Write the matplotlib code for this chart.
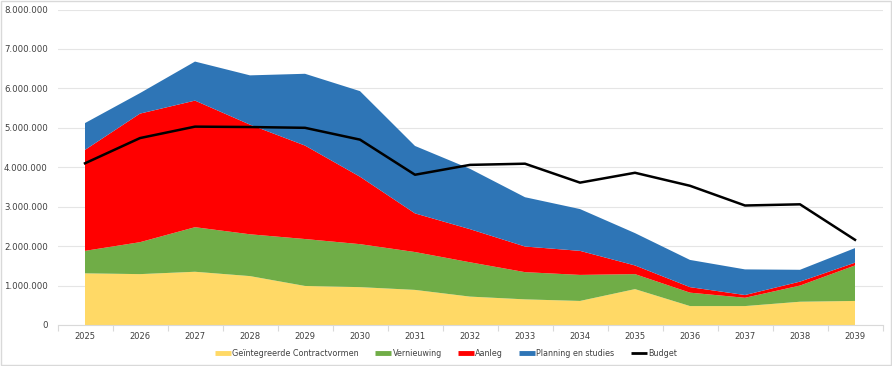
import matplotlib
matplotlib.use("Agg")
import matplotlib.pyplot as plt
from matplotlib.lines import Line2D
from matplotlib.patches import Rectangle
from matplotlib.ticker import FuncFormatter, MultipleLocator
import numpy as np

years = [str(y) for y in range(2025, 2040)]
geintegreerd = [1310000, 1290000, 1350000, 1240000, 990000, 960000, 890000, 720000,
                650000, 610000, 910000, 480000, 480000, 590000, 610000]
vernieuwing = [570000, 810000, 1130000, 1060000, 1190000, 1090000, 960000, 870000,
               690000, 660000, 380000, 340000, 210000, 410000, 900000]
aanleg = [2560000, 3260000, 3210000, 2780000, 2370000, 1710000, 980000, 840000,
          650000, 610000, 220000, 140000, 70000, 100000, 70000]
planning = [680000, 520000, 990000, 1250000, 1820000, 2170000, 1710000, 1530000,
            1250000, 1060000, 820000, 690000, 650000, 300000, 370000]
budget = [4100000, 4740000, 5030000, 5020000, 5000000, 4700000, 3810000, 4060000,
          4090000, 3610000, 3860000, 3530000, 3030000, 3060000, 2160000]

series_names = ["Geïntegreerde Contractvormen", "Vernieuwing", "Aanleg", "Planning en studies"]
colors = ["#FFD966", "#70AD47", "#FF0000", "#2E75B6"]

fig = plt.figure(figsize=(8.92, 3.66), dpi=100)
ax = fig.add_axes([57.5 / 892, 1 - 325 / 366, (882.5 - 57.5) / 892, (325 - 9.5) / 366])

x = np.arange(len(years))
ax.stackplot(x, geintegreerd, vernieuwing, aanleg, planning, colors=colors, linewidth=0, zorder=2)
ax.plot(x, budget, color="black", linewidth=1.8, zorder=3)

ax.set_xlim(-0.5, len(years) - 0.5)
ax.set_ylim(0, 8000000)
ax.yaxis.set_major_locator(MultipleLocator(1000000))
ax.yaxis.set_major_formatter(FuncFormatter(lambda v, p: f"{int(v):,}".replace(",", ".")))
ax.set_xticks(x)
ax.set_xticklabels(years)
ax.set_xticks(np.arange(-0.5, len(years), 1), minor=True)
ax.tick_params(axis="x", which="major", length=0, labelsize=6, pad=5, colors="#404040")
ax.tick_params(axis="x", which="minor", length=4, color="#D9D9D9", width=0.8)
ax.tick_params(axis="y", length=0, labelsize=6.2, pad=7, colors="#404040")
ax.grid(axis="y", color="#E5E5E5", linewidth=0.8, zorder=0)
ax.set_axisbelow(True)
for s in ["top", "right", "left"]:
    ax.spines[s].set_visible(False)
ax.spines["bottom"].set_color("#D9D9D9")
ax.spines["bottom"].set_linewidth(0.8)

handles = [Line2D([0], [0], color=c, linewidth=3.5, solid_capstyle="butt") for c in colors]
handles.append(Line2D([0], [0], color="black", linewidth=2, solid_capstyle="butt"))
labels = series_names + ["Budget"]
fig.legend(handles, labels, loc="center", bbox_to_anchor=(0.5, 1 - 353 / 366), ncol=5,
           frameon=False, fontsize=5.8, handlelength=2.0, handletextpad=0.15, columnspacing=2.0,
           labelcolor="#404040")

fig.patches.append(Rectangle((0.001, 0.002), 0.998, 0.996, transform=fig.transFigure,
                             fill=False, edgecolor="#D9D9D9", linewidth=1))

fig.savefig("out.png", dpi=100)
